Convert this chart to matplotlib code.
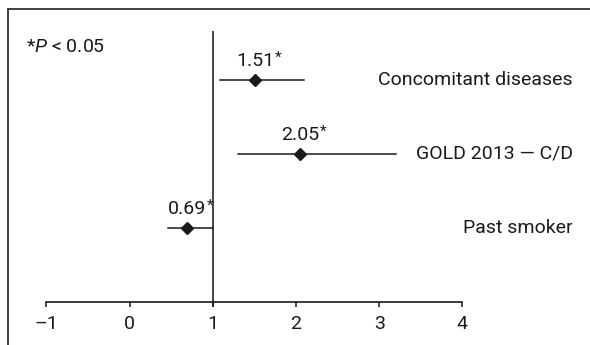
import matplotlib
matplotlib.use("Agg")
import matplotlib.pyplot as plt
from matplotlib.lines import Line2D

# odds ratios with 95% CI (top to bottom)
factors = ["Concomitant diseases", "GOLD 2013 \u2014 C/D", "Past smoker"]
odds = [1.51, 2.05, 0.69]
ci_low = [1.09, 1.30, 0.46]
ci_high = [2.10, 3.20, 1.00]
odds_labels = ["1.51", "2.05", "0.69"]
rows = [3, 2, 1]
xticks = [-1, 0, 1, 2, 3, 4]
xticklabels = ["\u20131", "0", "1", "2", "3", "4"]

plt.rcParams["font.family"] = ["Roboto", "DejaVu Sans"]
plt.rcParams["mathtext.fontset"] = "custom"
plt.rcParams["mathtext.it"] = "Roboto:italic"
plt.rcParams["mathtext.rm"] = "Roboto"

fig = plt.figure(figsize=(5.9, 3.45), dpi=100)
ax = fig.add_axes([0, 0, 1, 1])
ax.set_facecolor("none")

ink = "#1a1a1a"
fs = 14

# confidence intervals and point estimates
for y, o, lo, hi, lab in zip(rows, odds, ci_low, ci_high, odds_labels):
    ax.plot([lo, hi], [y, y], color=ink, lw=1.1, zorder=2)
    ax.plot(o, y, marker="D", color=ink, markersize=6, zorder=3)
    t = ax.text(o, y + 0.19, lab, ha="center", va="baseline", fontsize=fs, color=ink)
    ax.annotate("*", xy=(1, 1), xycoords=t, ha="left", va="top",
                fontsize=11, color=ink, xytext=(0.5, 1), textcoords="offset points")

# reference line at OR = 1
ax.plot([1, 1], [-0.055, 3.65], color="#444444", lw=1.4, zorder=1)

# labels on the right
for y, name in zip(rows, factors):
    ax.text(5.33, y, name, ha="right", va="center", fontsize=fs, color=ink)

ax.text(-1.25, 3.45, r"*$P$ < 0.05", ha="left", va="center", fontsize=fs, color=ink)

ax.set_xlim(-129.5 / 83.2, (590 - 129.5) / 83.2)
ax.set_ylim(1 - 117 / 74, 1 + 228 / 74)

for s in ["top", "right", "left"]:
    ax.spines[s].set_visible(False)
ax.spines["bottom"].set_position(("data", 0))
ax.spines["bottom"].set_bounds(-1, 4)
ax.spines["bottom"].set_color(ink)
ax.spines["bottom"].set_linewidth(1.2)
ax.set_xticks(xticks)
ax.set_xticklabels(xticklabels, fontsize=fs, color=ink)
ax.tick_params(axis="x", direction="out", length=3.6, width=1.1, pad=6, color=ink)
ax.set_yticks([])

# partial frame (left and top edges)
fig.add_artist(Line2D([8 / 590, 8 / 590], [0, 1 - 9 / 345], color="#333333", lw=1.3))
fig.add_artist(Line2D([8 / 590, 1], [1 - 9 / 345, 1 - 9 / 345], color="#333333", lw=1.3))

fig.savefig("out.png", dpi=100)
